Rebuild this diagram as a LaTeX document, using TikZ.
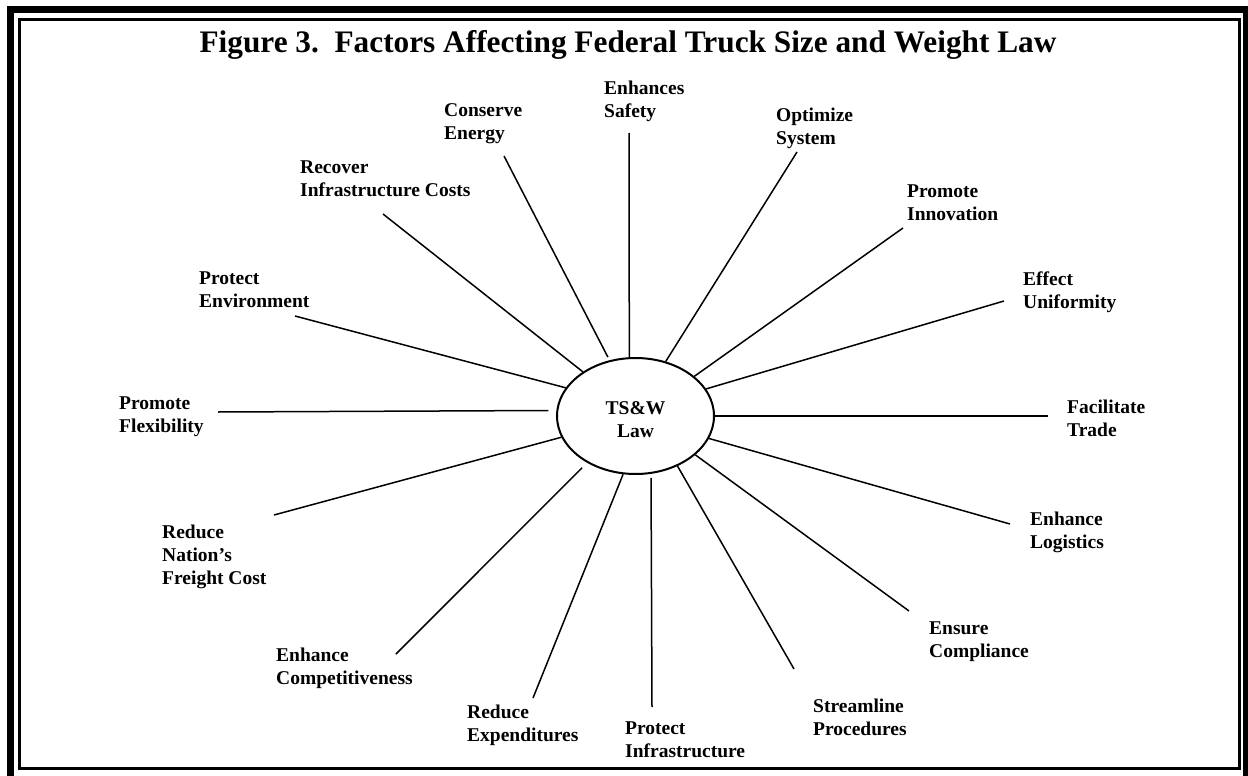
\documentclass[tikz,border=0pt]{standalone}
\usepackage{fontspec}
\setmainfont{Liberation Serif}
\usepackage{tikz}
\usetikzlibrary{shapes.geometric}

\begin{document}
\begin{tikzpicture}[x=1pt,y=-1pt,
	factor/.style={anchor=north west,align=left,inner sep=0pt,font=\bfseries\fontsize{19.5}{23}\selectfont},
	spoke/.style={black,line width=1.5pt}]
	\useasboundingbox (0,0) rectangle (1248,776);
	\draw [line width=6.8pt] (10.3,9.5) rectangle (1246.5,790);
	\draw [line width=2.4pt] (19.5,19.5) rectangle (1239.5,768.5);
	\node [anchor=base,inner sep=0pt,font=\bfseries\fontsize{31.3}{36}\selectfont] (title) at (628,53) {Figure 3.\ \ Factors Affecting Federal Truck Size and Weight Law};
	\node [draw,ellipse,line width=2pt,minimum width=157pt,minimum height=116pt,inner sep=0pt,align=center,font=\bfseries\fontsize{19.5}{23}\selectfont] (law) at (635.5,416) {\rule{0pt}{21pt}TS\&W\\Law};
	\node [factor] (safety) at (604,81) {Enhances\\Safety};
	\node [factor] (conserve) at (444,103) {Conserve\\Energy};
	\node [factor] (optimize) at (776,108) {Optimize\\System};
	\node [factor] (recover) at (300,161) {Recover\\Infrastructure Costs};
	\node [factor] (innovation) at (907,185) {Promote\\Innovation};
	\node [factor] (environment) at (199,272) {Protect\\Environment};
	\node [factor] (uniformity) at (1023,272) {Effect\\Uniformity};
	\node [factor] (flexibility) at (119,397) {Promote\\Flexibility};
	\node [factor] (trade) at (1067,400) {Facilitate\\Trade};
	\node [factor] (freight) at (162,525) {Reduce\\Nation’s\\Freight Cost};
	\node [factor] (logistics) at (1030,512) {Enhance\\Logistics};
	\node [factor] (competitiveness) at (276,648) {Enhance\\Competitiveness};
	\node [factor] (compliance) at (929,622) {Ensure\\Compliance};
	\node [factor] (expenditures) at (467,705) {Reduce\\Expenditures};
	\node [factor] (infrastructure) at (625,722) {Protect\\Infrastructure};
	\node [factor] (procedures) at (813,699) {Streamline\\Procedures};
	\coordinate (safety-end) at (629,133);
	\coordinate (conserve-end) at (504,156);
	\coordinate (optimize-end) at (797,152);
	\coordinate (recover-end) at (383,214);
	\coordinate (innovation-end) at (903,228);
	\coordinate (environment-end) at (295,316);
	\coordinate (uniformity-end) at (1004,301);
	\coordinate (flexibility-end) at (218,412);
	\coordinate (trade-end) at (1048,416);
	\coordinate (freight-end) at (274,515);
	\coordinate (logistics-end) at (1010,524);
	\coordinate (competitiveness-end) at (396,654);
	\coordinate (compliance-end) at (909,611);
	\coordinate (expenditures-end) at (533,698);
	\coordinate (infrastructure-end) at (652,707);
	\coordinate (procedures-end) at (794,669);
	\draw [spoke] (safety-end) -- (law.96.4);
	\draw [spoke,shorten >=3.5pt] (conserve-end) -- (law.115.4);
	\draw [spoke] (optimize-end) -- (law.61);
	\draw [spoke] (recover-end) -- (law.140);
	\draw [spoke] (innovation-end) -- (law.34.4);
	\draw [spoke] (environment-end) -- (law.158.6);
	\draw [spoke] (uniformity-end) -- (law.21.1);
	\draw [spoke,shorten >=8pt] (flexibility-end) -- (law.176.7);
	\draw [spoke] (trade-end) -- (law.0);
	\draw [spoke] (freight-end) -- (law.196.9);
	\draw [spoke] (logistics-end) -- (law.343.1);
	\draw [spoke,shorten >=7pt] (competitiveness-end) -- (law.224.2);
	\draw [spoke] (compliance-end) -- (law.327.2);
	\draw [spoke] (expenditures-end) -- (law.258);
	\draw [spoke,shorten >=4pt] (infrastructure-end) -- (law.285.1);
	\draw [spoke] (procedures-end) -- (law.310.5);
\end{tikzpicture}
\end{document}
